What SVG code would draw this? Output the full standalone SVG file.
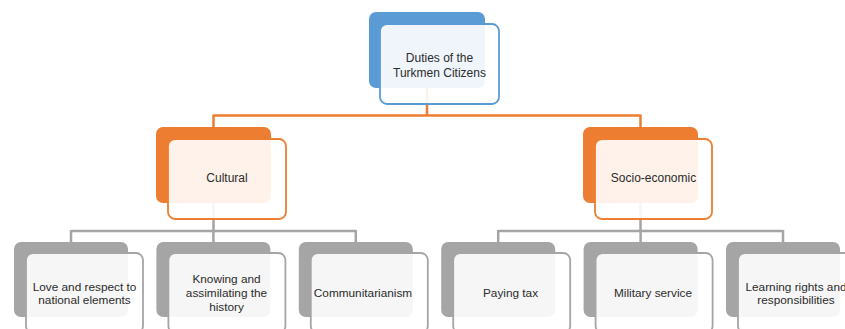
<svg xmlns="http://www.w3.org/2000/svg" width="845" height="329" viewBox="0 0 845 329">
<style>
.bk{stroke:none}
.fr{fill:#ffffff;fill-opacity:0.9;stroke-width:1.8}
.blue .bk{fill:#5B9BD5}.blue .fr{stroke:#5B9BD5}
.org .bk{fill:#ED7D31}.org .fr{stroke:#ED7D31}
.gry .bk{fill:#A5A5A5}.gry .fr{stroke:#A5A5A5}
text{font-family:"Liberation Sans",Arial,sans-serif;fill:#2b2b2b;text-anchor:middle}
.t12{font-size:12px}.t11{font-size:11.8px}
.co{fill:none;stroke:#ED7D31;stroke-width:2.5}
.cg{fill:none;stroke:#A5A5A5;stroke-width:2.5}
</style>
<rect width="845" height="329" fill="#ffffff"/>
<g id="connectors">
<path class="co" d="M427,88 V115.5 M213.5,115.5 H640.5 M213.5,114.5 V127 M640.5,114.5 V127"/>
<path class="cg" d="M213.5,203 V231 M71,231 H355.8 M71,230 V242 M213.4,230 V242 M355.8,230 V242"/>
<path class="cg" d="M640.5,203 V231 M498.2,231 H783 M498.2,230 V242 M640.6,230 V242 M783,230 V242"/>
</g>
<g id="root" class="blue">
<rect class="bk" x="369" y="12" width="116" height="76" rx="7"/>
<rect class="fr" x="380" y="24" width="119" height="80" rx="7"/>
<text class="t12" x="439.5" y="62">Duties of the</text>
<text class="t12" x="439.5" y="77">Turkmen Citizens</text>
</g>
<g id="cultural" class="org">
<rect class="bk" x="156" y="127" width="115" height="76" rx="7"/>
<rect class="fr" x="168" y="139" width="118" height="80" rx="7"/>
<text class="t12" x="227" y="182">Cultural</text>
</g>
<g id="socio" class="org">
<rect class="bk" x="583" y="127" width="115" height="76" rx="7"/>
<rect class="fr" x="595" y="139" width="117" height="80" rx="7"/>
<text class="t12" x="653.5" y="182">Socio-economic</text>
</g>
<g id="love" class="gry">
<rect class="bk" x="14" y="242" width="114" height="75" rx="7"/>
<rect class="fr" x="26" y="253" width="117" height="80" rx="7"/>
<text class="t11" x="84.5" y="291">Love and respect to</text>
<text class="t11" x="84.5" y="304">national elements</text>
</g>
<g id="knowing" class="gry">
<rect class="bk" x="156.4" y="242" width="114" height="75" rx="7"/>
<rect class="fr" x="168.4" y="253" width="117" height="80" rx="7"/>
<text class="t11" x="226.5" y="283">Knowing and</text>
<text class="t11" x="226.5" y="297">assimilating the</text>
<text class="t11" x="226.5" y="311">history</text>
</g>
<g id="communitarianism" class="gry">
<rect class="bk" x="298.8" y="242" width="114" height="75" rx="7"/>
<rect class="fr" x="310.8" y="253" width="117" height="80" rx="7"/>
<text class="t11" x="363" y="297">Communitarianism</text>
</g>
<g id="tax" class="gry">
<rect class="bk" x="441.2" y="242" width="114" height="75" rx="7"/>
<rect class="fr" x="453.2" y="253" width="117" height="80" rx="7"/>
<text class="t11" x="510.5" y="297">Paying tax</text>
</g>
<g id="military" class="gry">
<rect class="bk" x="583.6" y="242" width="114" height="75" rx="7"/>
<rect class="fr" x="595.6" y="253" width="117" height="80" rx="7"/>
<text class="t11" x="653" y="297">Military service</text>
</g>
<g id="learning" class="gry">
<rect class="bk" x="726" y="242" width="114" height="75" rx="7"/>
<rect class="fr" x="738" y="253" width="117" height="80" rx="7"/>
<text class="t11" x="796" y="291">Learning rights and</text>
<text class="t11" x="796" y="304">responsibilities</text>
</g>
</svg>
